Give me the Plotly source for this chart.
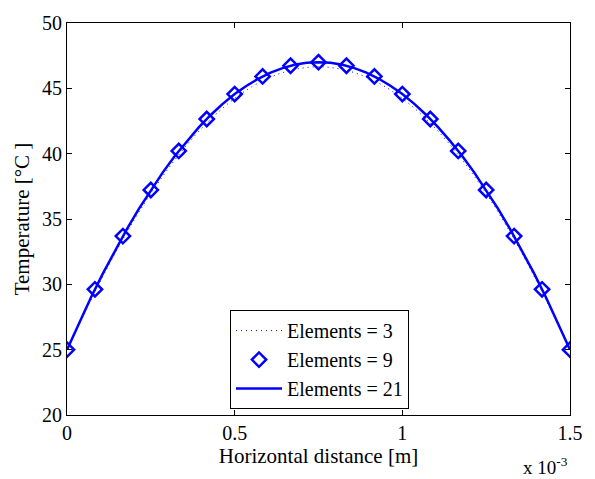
import plotly.graph_objects as go

# Elements = 21 (solid line), positions in m
x21 = [i * 1.5e-3 / 42 for i in range(43)]
t21_half = [25.00, 27.05, 28.99, 30.84, 32.58, 34.23, 35.78, 37.22, 38.57, 39.82,
            40.96, 42.01, 42.96, 43.81, 44.56, 45.20, 45.75, 46.20, 46.55, 46.80,
            46.95, 47.00]
t21 = t21_half + t21_half[-2::-1]

# Elements = 9 (diamond markers)
x9 = [i * 1.5e-3 / 18 for i in range(19)]
t9_half = [25.00, 29.62, 33.69, 37.22, 40.21, 42.65, 44.56, 45.91, 46.73, 47.00]
t9 = t9_half + t9_half[-2::-1]

# Elements = 3 (dotted line)
x3 = [i * 1.5e-3 / 24 for i in range(25)]
t3_half = [25.00, 28.35, 31.50, 34.38, 36.95, 39.22, 41.20, 42.86, 44.23, 45.29,
           46.04, 46.49, 46.65]
t3 = t3_half + t3_half[-2::-1]

xticks = [0, 0.5e-3, 1.0e-3, 1.5e-3]
xticklabels = ["0", "0.5", "1", "1.5"]
yticks = [20, 25, 30, 35, 40, 45, 50]

BLUE = "#0000ff"
FONT = "Times New Roman, Liberation Serif, serif"

fig = go.Figure()
fig.add_trace(go.Scatter(x=x3, y=t3, mode="lines", name="Elements = 3",
                         line=dict(color=BLUE, width=1, dash="1px,4px", shape="spline")))
fig.add_trace(go.Scatter(x=x9, y=t9, mode="markers", name="Elements = 9",
                         marker=dict(symbol="diamond-open", size=11, color=BLUE,
                                     line=dict(width=2.5, color=BLUE))))
fig.add_trace(go.Scatter(x=x21, y=t21, mode="lines", name="Elements = 21",
                         line=dict(color=BLUE, width=2.5)))

fig.update_layout(
    width=595, height=479,
    margin=dict(l=67, r=15, t=12, b=64),
    plot_bgcolor="white", paper_bgcolor="white",
    font=dict(family=FONT, size=20, color="black"),
    showlegend=True,
    legend=dict(x=0.502, y=0.015, xanchor="center", yanchor="bottom",
                bgcolor="white", bordercolor="black", borderwidth=1,
                font=dict(family=FONT, size=20), itemwidth=46),
    xaxis=dict(range=[0, 1.5e-3], tickvals=xticks, ticktext=xticklabels,
               ticks="inside", ticklen=5, tickcolor="black", showline=True,
               linecolor="black", linewidth=1, mirror="ticks", showgrid=False,
               zeroline=False, tickfont=dict(family=FONT, size=20),
               title=dict(text="Horizontal distance [m]", font=dict(family=FONT, size=21),
                          standoff=0)),
    yaxis=dict(range=[20, 50], tickvals=yticks, ticks="inside", ticklen=5,
               tickcolor="black", showline=True, linecolor="black", linewidth=1,
               mirror="ticks", showgrid=False, zeroline=False,
               tickfont=dict(family=FONT, size=20),
               title=dict(text="Temperature [°C ]", font=dict(family=FONT, size=21),
                          standoff=6)),
)
fig.add_annotation(xref="paper", yref="paper", x=1.0, y=-0.095, xanchor="right",
                   yanchor="top", showarrow=False,
                   text="x 10<sup>-3</sup>", font=dict(family=FONT, size=19))

fig.write_html("out.html")
